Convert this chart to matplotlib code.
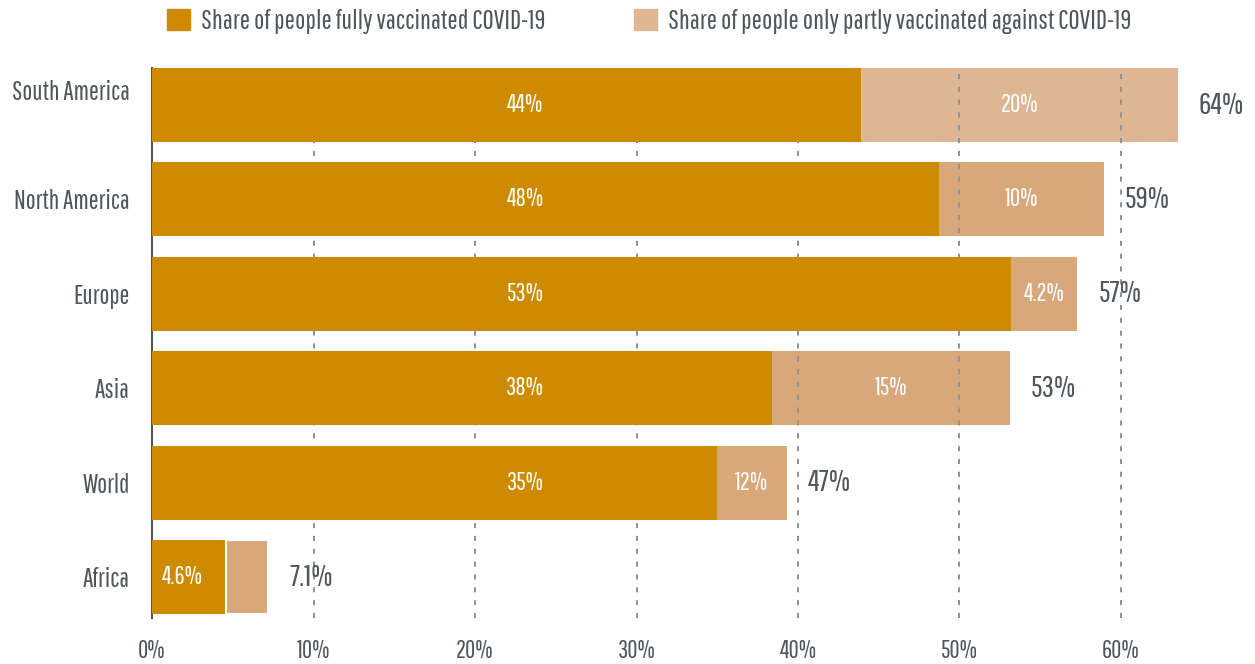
import matplotlib
matplotlib.use("Agg")
import matplotlib.pyplot as plt
import matplotlib.transforms as mtransforms
from matplotlib.patches import Patch
import numpy as np

# data
regions = ["South America", "North America", "Europe", "Asia", "World", "Africa"]
fully = [43.9, 48.7, 53.2, 38.4, 35.0, 4.6]
partly = [19.6, 10.25, 4.1, 14.7, 4.3, 2.6]
fully_labels = ["44%", "48%", "53%", "38%", "35%", "4.6%"]
partly_labels = ["20%", "10%", "4.2%", "15%", "12%", ""]
total_labels = ["64%", "59%", "57%", "53%", "47%", "7.1%"]
ticks = [0, 10, 20, 30, 40, 50, 60]

plt.rcParams["font.family"] = ["Pathway Gothic One", "DejaVu Sans"]

c_full = "#CE8A00"
c_part = "#D8A87B"
c_part_light = "#DEB693"
grey = "#4D575A"

fig = plt.figure(figsize=(12.55, 6.64), dpi=100)
ax = fig.add_axes([152 / 1255, 1 - 618 / 664, (1185.6 - 152) / 1255, (618 - 68) / 664])

y = np.arange(len(regions))
pcols = [c_part_light] + [c_part] * (len(regions) - 1)
ax.barh(y, partly, left=fully, height=0.784, color=pcols, zorder=1)
ax.barh(y, fully, height=0.784, color=c_full, zorder=3, edgecolor="none")
# thin white separator on the small Africa bar
ax.barh(y[-1:], partly[-1:], left=fully[-1:], height=0.784, color=c_part,
        edgecolor="white", linewidth=1.5, zorder=3)

for t in ticks[1:]:
    ax.axvline(t, color="#8E9294", linestyle=(0, (2.6, 4.0)), linewidth=1.4, zorder=2)

for i in range(len(regions)):
    fx = 23.1 if fully[i] > 20 else fully[i] / 2 - 0.4
    ax.text(fx, i, fully_labels[i], color="white", fontsize=18,
            ha="center", va="center", zorder=4)
    if partly_labels[i]:
        ax.text(fully[i] + partly[i] / 2, i, partly_labels[i], color="white",
                fontsize=18, ha="center", va="center", zorder=4)
    ax.annotate(total_labels[i], (fully[i] + partly[i], i), xytext=(15, 0),
                textcoords="offset points", ha="left", va="center",
                fontsize=22, color=grey, clip_on=False, zorder=5)

ax.set_xlim(0, 64)
ax.set_ylim(5.434, -0.392)
ax.set_xticks(ticks)
ax.set_xticklabels([f"{t}%" for t in ticks])
ax.set_yticks(y)
ax.set_yticklabels(regions, fontsize=19)
ax.tick_params(axis="both", length=0, labelcolor=grey)
ax.tick_params(axis="x", labelsize=18, pad=15)
ax.tick_params(axis="y", pad=16)
for s in ["top", "right", "bottom"]:
    ax.spines[s].set_visible(False)
ax.spines["left"].set_color(grey)
ax.spines["left"].set_linewidth(1.5)

# the top label sits a bit higher than its bar in the original
first = ax.get_yticklabels()[0]
first.set_transform(first.get_transform() +
                    mtransforms.ScaledTranslation(0, 0.15, fig.dpi_scale_trans))

leg_items = [("Share of people fully vaccinated COVID-19", c_full, 167),
             ("Share of people only partly vaccinated against COVID-19", c_part_light, 634)]
for label, col, px in leg_items:
    fig.legend(handles=[Patch(color=col, label=label)], loc="center left",
               bbox_to_anchor=(px / 1255, 1 - 21.5 / 664), frameon=False,
               borderpad=0, borderaxespad=0, handlelength=0.84, handleheight=0.84,
               handletextpad=0.42, fontsize=19.5, labelcolor=grey)

fig.savefig("out.png", dpi=100)
